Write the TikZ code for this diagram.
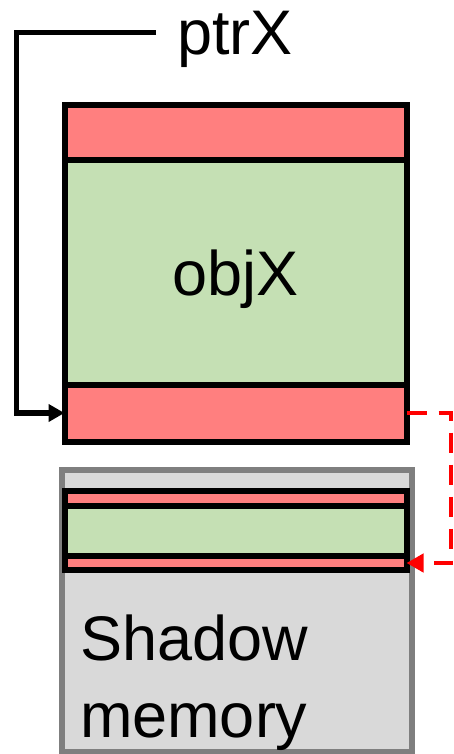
\documentclass[tikz,border=0pt]{standalone}
\usepackage{fontspec}
\setmainfont{Liberation Sans}
\usetikzlibrary{positioning,arrows.meta}
\definecolor{bandred}{RGB}{255,127,127}
\definecolor{bodygreen}{RGB}{197,224,180}
\definecolor{shadowgray}{RGB}{217,217,217}
\definecolor{edgegray}{RGB}{127,127,127}

\begin{document}
\begin{tikzpicture}[x=1pt,y=-1pt,
    every node/.style={font=\fontsize{63}{77}\selectfont,inner sep=0pt,outer sep=0pt},
    band/.style={draw,line width=6pt,minimum width=342pt},
    redband/.style={band,fill=bandred},
    greenband/.style={band,fill=bodygreen},
    ptrline/.style={line width=5.5pt,-{Triangle[length=16pt,width=17pt]}},
    copyline/.style={draw=red,line width=4.5pt,dash pattern=on 20pt off 12pt,-{Triangle[length=17pt,width=18pt]}}]
  \useasboundingbox (0,0) rectangle (454,754);
  % the object with its two red zones
  \node[redband,minimum height=55.5pt] (objhead) at (235.5,132.75) {};
  \node[greenband,minimum height=224pt,text depth=0pt,below=0pt of objhead] (objbody) {objX};
  \node[redband,minimum height=57pt,below=0pt of objbody] (objtail) {};
  % shadow memory and its copy of the layout
  \node[draw=edgegray,fill=shadowgray,line width=6pt,minimum width=350pt,minimum height=282pt,anchor=north] (shadow) at (236.5,470) {};
  \node[redband,minimum height=15pt] (shhead) at (235.5,498.5) {};
  \node[greenband,minimum height=50pt,below=0pt of shhead] (shbody) {};
  \node[redband,minimum height=14pt,below=0pt of shbody] (shtail) {};
  \node[anchor=base west,align=left] (shadowlbl) at (80,737) {Shadow\\memory};
  % pointer
  \node[anchor=base west] (ptr) at (177,55) {ptrX};
  \draw[ptrline] ([shift={(-21,-7.5)}]ptr.west) -- ++(-139.5,0) |- (objtail.west);
  \draw[copyline] (objtail.east) -- ++(44.5,0) |- (shtail.east);
\end{tikzpicture}
\end{document}
